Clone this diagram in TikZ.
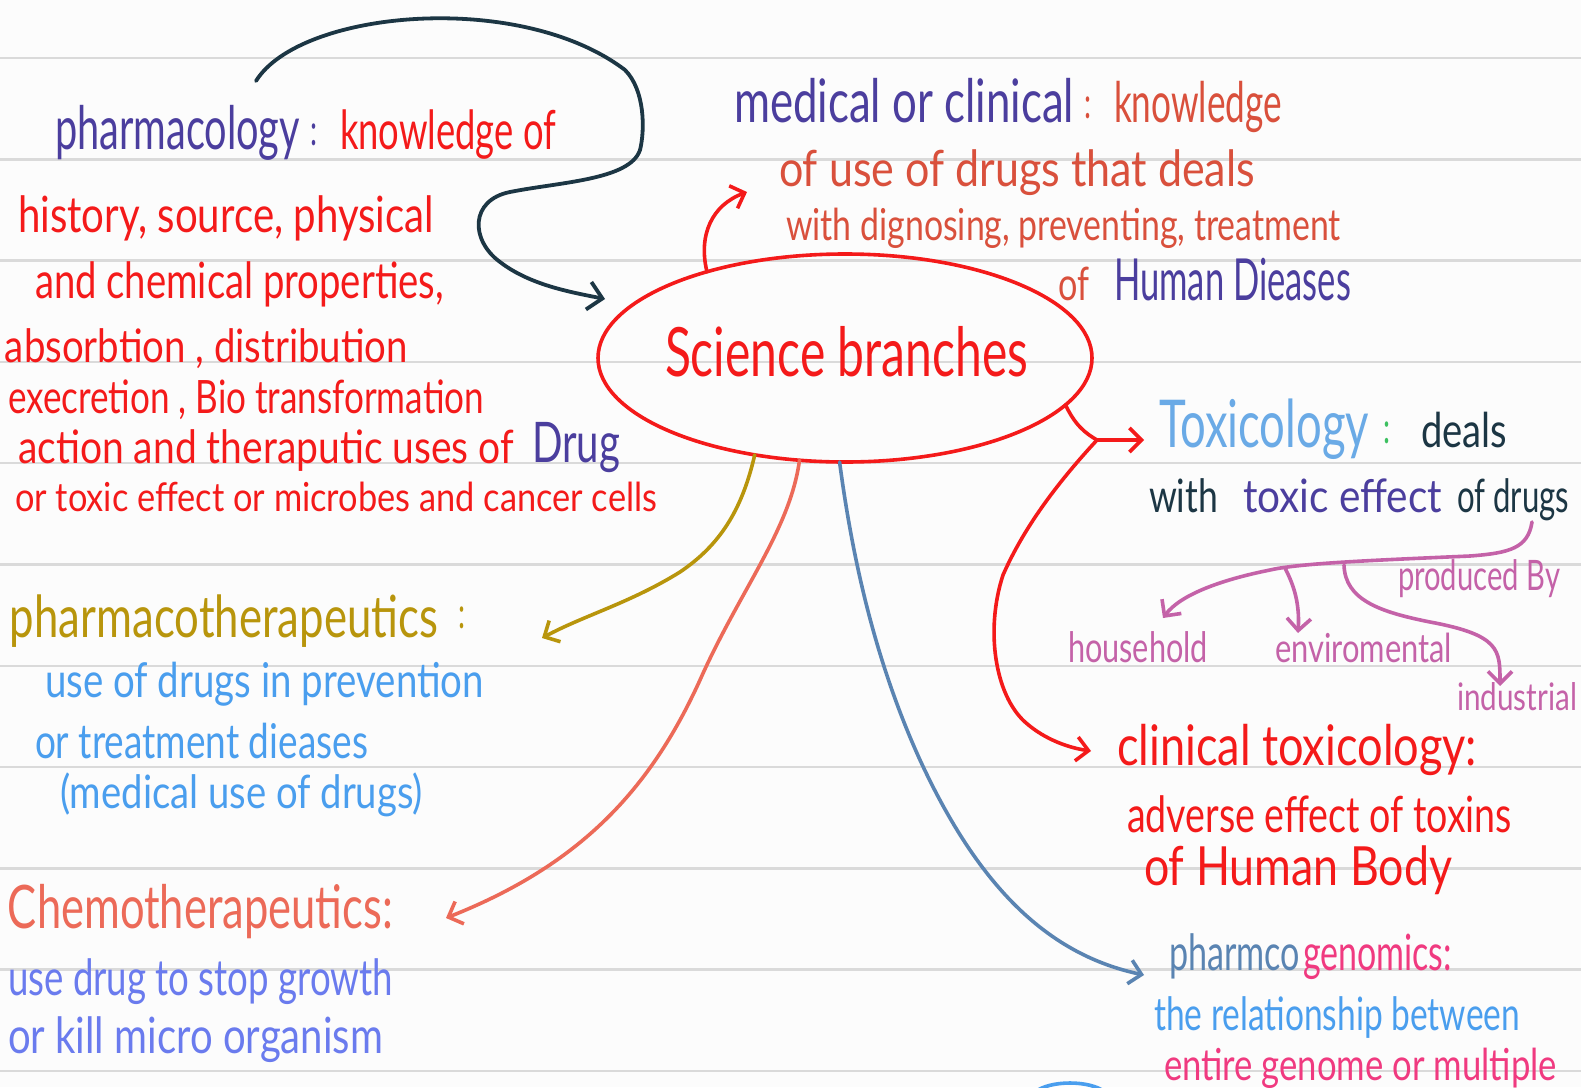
\documentclass[tikz,border=0pt]{standalone}
\usepackage{fontspec}
\setmainfont{Lato}
\usepackage{graphicx}
\usetikzlibrary{arrows.meta,shapes.geometric}

\definecolor{bg}{HTML}{FCFCFC}
\definecolor{rulec}{HTML}{DADADA}
\definecolor{hred}{HTML}{F41A1A}
\definecolor{hpurple}{HTML}{4B3E9E}
\definecolor{horange}{HTML}{D9503C}
\definecolor{hdark}{HTML}{1C3644}
\definecolor{hlblue}{HTML}{6AAAE6}
\definecolor{hblue}{HTML}{4A9EEE}
\definecolor{holive}{HTML}{B8950C}
\definecolor{hsalmon}{HTML}{EC6A58}
\definecolor{hperi}{HTML}{6A7BEE}
\definecolor{hsteel}{HTML}{5A84B2}
\definecolor{hmag}{HTML}{F03A80}
\definecolor{hpink}{HTML}{C462A8}
\definecolor{hgreen}{HTML}{3CC060}

% width-fitted text: \hw{width}{font size}{text}
\newcommand{\hw}[3]{\resizebox{#1pt}{\height}{\fontsize{#2pt}{#2pt}\selectfont #3}}

\begin{document}
\begin{tikzpicture}[x=1pt,y=-1pt,
  txt/.style={anchor=base west, inner sep=0pt, outer sep=0pt},
  conn/.style={line width=3.6pt, line cap=round, line join=round},
  tip/.style={-{Straight Barb[length=12pt,width=24pt]}},
  ruleline/.style={rulec, line width=2.5pt}]

\fill[bg] (0,0) rectangle (1581,1087);
\useasboundingbox (0,0) rectangle (1581,1087);

% ruled lines
\foreach \k in {0,...,10}
  \draw[ruleline] ({0},{58+101.3*\k}) -- ({1581},{58+101.3*\k});

% ---------- centre ellipse ----------
\node[ellipse, draw=hred, line width=3.6pt, minimum width=494pt, minimum height=208pt,
      inner sep=0pt, outer sep=0pt] (sci) at (845,358) {};
\node[txt, text=hred] (scit) at (665,376) {\hw{363}{68}{Science branches}};

% ---------- pharmacology ----------
\node[txt, text=hpurple] (ph1) at (55,149) {\hw{245}{60}{pharmacology}};
\node[txt, text=hpurple] (ph1c) at (310,145) {\hw{7}{44}{:}};
\node[txt, text=hred] (ph2) at (340,149) {\hw{216}{54}{knowledge of}};
\node[txt, text=hred] (ph3) at (18,232) {\hw{416}{50}{history, source, physical}};
\node[txt, text=hred] (ph4) at (35,298) {\hw{409}{50}{and chemical properties,}};
\node[txt, text=hred] (ph5) at (5,362) {\hw{403}{46}{absorbtion , distribution}};
\node[txt, text=hred] (ph6) at (8,413) {\hw{476}{46}{execretion , Bio transformation}};
\node[txt, text=hred] (ph7) at (18,463) {\hw{496}{46}{action and theraputic uses of}};
\node[txt, text=hpurple] (ph7d) at (532,462) {\hw{88}{56}{Drug}};
\node[txt, text=hred] (ph8) at (15,511) {\hw{642}{40}{or toxic effect or microbes and cancer cells}};

% ---------- medical or clinical ----------
\node[txt, text=hpurple] (md1) at (734,122) {\hw{340}{60}{medical or clinical}};
\node[txt, text=horange] (md1c) at (1084,118) {\hw{7}{44}{:}};
\node[txt, text=horange] (md2) at (1114,122) {\hw{168}{56}{knowledge}};
\node[txt, text=horange] (md3) at (779,186) {\hw{476}{50}{of use of drugs that deals}};
\node[txt, text=horange] (md4) at (786,240) {\hw{555}{44}{with dignosing, preventing, treatment}};
\node[txt, text=horange] (md5) at (1058,300) {\hw{31}{46}{of}};
\node[txt, text=hpurple] (md6) at (1114,300) {\hw{237}{58}{Human Dieases}};

% ---------- toxicology ----------
\node[txt, text=hlblue] (tx1) at (1159,447) {\hw{210}{66}{Toxicology}};
\node[txt, text=hgreen] (tx1c) at (1383,443) {\hw{7}{44}{:}};
\node[txt, text=hdark] (tx2) at (1421,447) {\hw{86}{48}{deals}};
\node[txt, text=hdark] (tx3) at (1149,512) {\hw{69}{46}{with}};
\node[txt, text=hpurple] (tx4) at (1243,512) {\hw{199}{46}{toxic effect}};
\node[txt, text=hdark] (tx5) at (1457,512) {\hw{112}{46}{of drugs}};
\node[txt, text=hpink] (pb) at (1398,590) {\hw{162}{42}{produced By}};
\node[txt, text=hpink] (hh) at (1068,662) {\hw{140}{42}{household}};
\node[txt, text=hpink] (env) at (1275,662) {\hw{177}{40}{enviromental}};
\node[txt, text=hpink] (ind) at (1457,710) {\hw{120}{38}{industrial}};

% ---------- clinical toxicology ----------
\node[txt, text=hred] (ct1) at (1117,765) {\hw{360}{56}{clinical toxicology:}};
\node[txt, text=hred] (ct2) at (1127,832) {\hw{385}{50}{adverse effect of toxins}};
\node[txt, text=hred] (ct3) at (1144,885) {\hw{308}{54}{of Human Body}};

% ---------- pharmacogenomics ----------
\node[txt, text=hsteel] (pg1) at (1169,970) {\hw{131}{50}{pharmco}};
\node[txt, text=hmag] (pg1b) at (1303,970) {\hw{149}{50}{genomics:}};
\node[txt, text=hblue] (pg2) at (1154,1030) {\hw{366}{46}{the relationship between}};
\node[txt, text=hmag] (pg3) at (1164,1080) {\hw{393}{44}{entire genome or multiple}};

% ---------- pharmacotherapeutics ----------
\node[txt, text=holive] (pt1) at (10,637) {\hw{428}{58}{pharmacotherapeutics}};
\node[txt, text=holive] (pt1c) at (458,628) {\hw{7}{44}{:}};
\node[txt, text=hblue] (pt2) at (45,697) {\hw{439}{48}{use of drugs in prevention}};
\node[txt, text=hblue] (pt3) at (35,758) {\hw{333}{48}{or treatment dieases}};
\node[txt, text=hblue] (pt4) at (60,808) {\hw{363}{46}{(medical use of drugs)}};

% ---------- chemotherapeutics ----------
\node[txt, text=hsalmon] (ch1) at (8,928) {\hw{385}{60}{Chemotherapeutics:}};
\node[txt, text=hperi] (ch2) at (8,995) {\hw{385}{50}{use drug to stop growth}};
\node[txt, text=hperi] (ch3) at (8,1053) {\hw{375}{50}{or kill micro organism}};

% ---------- connectors ----------
\coordinate (dstart) at (256,81);
\coordinate (parr) at (605,299);
\draw[conn, hdark, line width=3.8pt, -{Straight Barb[length=14pt,width=28pt]}] (dstart)
  .. controls (300,10) and (520,-10) .. (625,70)
  .. controls (645,90) and (645,130) .. (640,150)
  .. controls (630,180) and (560,182) .. (510,192)
  .. controls (470,200) and (470,240) .. (500,262)
  .. controls (530,285) and (570,292) .. (parr);

\coordinate (medarr) at (747,192);
\draw[conn, hred, tip] (sci.148) .. controls (698,235) and (712,205) .. (medarr);

\coordinate (txbr) at (1097,440);
\coordinate (txarr) at (1144,440);
\coordinate (ctarr) at (1091,751);
\draw[conn, hred] (sci.-12) .. controls (1075,425) and (1085,433) .. (txbr);
\draw[conn, hred, tip] (txbr) -- (txarr);
\draw[conn, hred, tip] (txbr) .. controls (1060,480) and (1025,525) .. (1003,575)
  .. controls (985,630) and (995,695) .. (1025,722)
  .. controls (1045,740) and (1070,748) .. (ctarr);

\coordinate (ptarr) at (542,638);
\draw[conn, holive, tip] (sci.-133) .. controls (742,510) and (720,545) .. (680,572)
  .. controls (630,603) and (585,615) .. (ptarr);

\coordinate (charr) at (446,918);
\draw[conn, hsalmon, tip] (sci.-114) .. controls (790,530) and (740,590) .. (700,680)
  .. controls (650,790) and (580,865) .. (charr);

\coordinate (pgarr) at (1144,975);
\draw[conn, hsteel, tip] (sci.-93) .. controls (850,540) and (870,650) .. (920,760)
  .. controls (980,890) and (1050,955) .. (pgarr);

% pink tree
\coordinate (pk1) at (1532,522);
\coordinate (pkA) at (1285,568);
\coordinate (pkB) at (1344,565);
\coordinate (hharr) at (1163,618);
\coordinate (envarr) at (1298,633);
\coordinate (indarr) at (1500,686);
\draw[conn, hpink, tip] (pk1) .. controls (1528,548) and (1510,553) .. (1470,556)
  .. controls (1380,560) and (1300,563) .. (1270,570)
  .. controls (1220,580) and (1180,595) .. (hharr);
\draw[conn, hpink, tip] (pkA) .. controls (1292,582) and (1300,600) .. (envarr);
\draw[conn, hpink, tip] (pkB) .. controls (1345,600) and (1380,612) .. (1430,622)
  .. controls (1500,635) and (1500,650) .. (indarr);

% partial shape at the bottom edge
\draw[conn, hblue] (1035,1092) .. controls (1050,1080) and (1090,1080) .. (1105,1092);

\end{tikzpicture}
\end{document}
